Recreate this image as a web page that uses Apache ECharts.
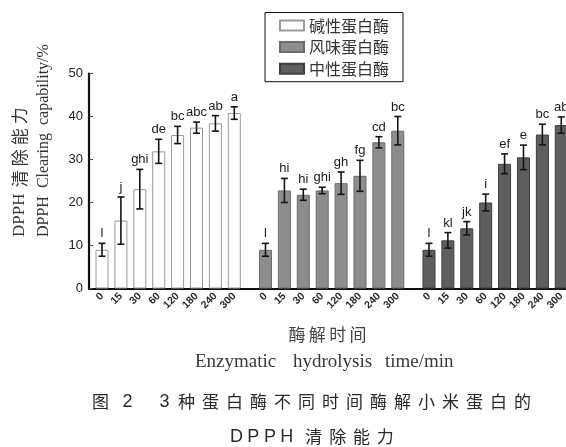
<!DOCTYPE html>
<html>
<head>
<meta charset="utf-8">
<script src="https://cdn.jsdelivr.net/npm/echarts@6/dist/echarts.min.js"></script>
<style>
  html, body { margin: 0; padding: 0; background: #fff; }
  #chart { width: 566px; height: 447px; }
</style>
</head>
<body>
<div id="chart"></div>
<script>
// Hydrolysis times (min) shown under each enzyme group
const timeLabels = ['0', '15', '30', '60', '120', '180', '240', '300'];
const enzymes = ['碱性蛋白酶', '风味蛋白酶', '中性蛋白酶'];

// DPPH clearing capability (%) — mean, deviation and significance letters
const alkalineMean = [9.0, 15.8, 23.1, 31.9, 35.7, 37.4, 38.4, 40.8];
const alkalineSd   = [1.5, 5.5, 4.6, 2.8, 2.0, 1.3, 1.8, 1.45];
const alkalineSig  = ['l', 'j', 'ghi', 'de', 'bc', 'abc', 'ab', 'a'];

const flavourMean = [9.0, 22.8, 21.8, 22.8, 24.5, 26.2, 34.0, 36.7];
const flavourSd   = [1.5, 2.8, 1.3, 0.75, 2.6, 3.6, 1.3, 3.3];
const flavourSig  = ['l', 'hi', 'hi', 'ghi', 'gh', 'fg', 'cd', 'bc'];

const neutralMean = [9.0, 11.2, 14.0, 20.0, 29.0, 30.5, 35.8, 38.0];
const neutralSd   = [1.5, 1.8, 1.55, 1.95, 2.3, 2.85, 2.4, 1.9];
const neutralSig  = ['l', 'kl', 'jk', 'i', 'ef', 'e', 'bc', 'ab'];

const yTicks = [0, 10, 20, 30, 40, 50];

// ---- layout helpers ----
const groups = [
  { mean: alkalineMean, sd: alkalineSd, sig: alkalineSig, fill: '#ffffff', border: '#9a9a9a' },
  { mean: flavourMean,  sd: flavourSd,  sig: flavourSig,  fill: '#8d8d8d', border: '#6c6c6c' },
  { mean: neutralMean,  sd: neutralSd,  sig: neutralSig,  fill: '#5e5e5e', border: '#3e3e3e' }
];
const GROUP_STEP = timeLabels.length + 0.65;   // slot offset between enzyme groups
const slotPos = (g, i) => +(g * GROUP_STEP + i).toFixed(3);

const tickPositions = [];
const tickText = {};
groups.forEach((_, g) => timeLabels.forEach((t, i) => {
  const p = slotPos(g, i);
  tickPositions.push(p);
  tickText[p] = t;
}));

const SANS = "'Liberation Sans', Arial, 'Noto Sans CJK SC', sans-serif";
const SERIF = "'Liberation Serif', 'Times New Roman', 'Noto Sans CJK SC', serif";
const CJK = "'Noto Sans CJK SC', sans-serif";

// rich text with a fixed advance per character
function spaced(str, style) {
  return str.split('').map(ch => `{${style}|${ch}}`).join('');
}
function rs(size, family, extra) {
  return Object.assign({ fontSize: size, fontFamily: family, fill: '#2a2a2a', color: '#2a2a2a' }, extra || {});
}

const barSeries = groups.map((grp, g) => ({
  name: enzymes[g],
  type: 'bar',
  barWidth: 13,
  barGap: '-100%',
  itemStyle: { color: grp.fill, borderColor: grp.border, borderWidth: 1 },
  data: grp.mean.map((v, i) => [slotPos(g, i), v]),
  z: 2
}));

const errSeries = groups.map((grp, g) => ({
  type: 'custom',
  z: 4,
  silent: true,
  encode: { x: 0, y: [1, 2] },
  data: grp.mean.map((v, i) => [slotPos(g, i), v - grp.sd[i], v + grp.sd[i], grp.sig[i]]),
  renderItem: function (params, api) {
    const x = api.value(0);
    const lo = api.coord([x, api.value(1)]);
    const hi = api.coord([x, api.value(2)]);
    const cap = 3.5;
    const st = { stroke: '#151515', lineWidth: 1.6 };
    return {
      type: 'group',
      children: [
        { type: 'line', shape: { x1: lo[0], y1: lo[1], x2: hi[0], y2: hi[1] }, style: st },
        { type: 'line', shape: { x1: hi[0] - cap, y1: hi[1], x2: hi[0] + cap, y2: hi[1] }, style: st },
        { type: 'line', shape: { x1: lo[0] - cap, y1: lo[1], x2: lo[0] + cap, y2: lo[1] }, style: st },
        {
          type: 'text',
          x: hi[0], y: hi[1] - 3,
          style: {
            text: api.value(3),
            align: 'center', verticalAlign: 'bottom',
            fontSize: 13, fontFamily: SANS, fill: '#1a1a1a'
          }
        }
      ]
    };
  }
}));

const option = {
  animation: false,
  backgroundColor: '#ffffff',
  grid: { left: 89, right: 0, top: 73.5, bottom: 158.5, outerBoundsMode: 'none' },
  legend: {
    orient: 'vertical',
    left: 265, top: 12.5,
    data: enzymes,
    icon: 'rect',
    itemWidth: 24, itemHeight: 10, itemGap: 5.6,
    padding: [5, 14, 5, 14],
    borderColor: '#111', borderWidth: 1,
    textStyle: { fontSize: 16, color: '#333', fontFamily: CJK }
  },
  xAxis: {
    type: 'value',
    min: -0.688, max: 24.55,
    splitLine: { show: false },
    axisLine: { show: true, onZero: false, lineStyle: { color: '#111', width: 2.2 } },
    axisTick: { show: false },
    axisLabel: {
      customValues: tickPositions,
      rotate: 45,
      margin: 6,
      fontSize: 10.5,
      fontFamily: SANS,
      fontWeight: 'bold',
      color: '#2a2a2a',
      formatter: v => tickText[+(+v).toFixed(3)] ?? ''
    }
  },
  yAxis: {
    type: 'value',
    min: yTicks[0], max: yTicks[yTicks.length - 1], interval: 10,
    splitLine: { show: false },
    axisLine: { show: true, onZero: false, lineStyle: { color: '#111', width: 2.2 } },
    axisTick: { show: true, inside: true, length: 4, lineStyle: { color: '#444', width: 1 } },
    axisLabel: { margin: 6, fontSize: 13, fontFamily: SANS, color: '#222' }
  },
  graphic: [
    // y-axis titles (rotated)
    {
      type: 'text', x: 20, y: 237, rotation: Math.PI / 2,
      style: {
        text: '{a|DPPH }' + spaced('清除能力', 'c'),
        align: 'left', verticalAlign: 'middle', fill: '#333',
        rich: {
          a: rs(17, SERIF, { fill: '#333' }),
          c: rs(17, CJK, { fill: '#333', width: 21, align: 'center' })
        }
      }
    },
    {
      type: 'text', x: 44, y: 237, rotation: Math.PI / 2,
      style: {
        text: 'DPPH  Clearing  capability/%',
        align: 'left', verticalAlign: 'middle',
        fontSize: 16, fontFamily: SERIF, fill: '#333'
      }
    },
    // x-axis titles
    {
      type: 'text', x: 327.5, y: 335,
      style: {
        text: spaced('酶解时间', 'c'),
        align: 'center', verticalAlign: 'middle',
        rich: { c: rs(17, CJK, { fill: '#444', width: 20.4, align: 'center' }) }
      }
    },
    {
      type: 'text', x: 327.5, y: 362,
      style: {
        text: '{w1|Enzymatic}{w2|hydrolysis}{w3|time/min}',
        align: 'center', verticalAlign: 'middle',
        rich: {
          w1: rs(19, SERIF, { fill: '#3a3a3a', width: 98, align: 'left' }),
          w2: rs(19, SERIF, { fill: '#3a3a3a', width: 92, align: 'left' }),
          w3: rs(19, SERIF, { fill: '#3a3a3a', width: 75, align: 'left' })
        }
      }
    },
    // figure caption
    {
      type: 'text', x: 311.5, y: 402,
      style: {
        text: '{c|图}{n|2}{s| }{d|3}' + spaced('种蛋白酶不同时间酶解小米蛋白的', 'c'),
        align: 'center', verticalAlign: 'middle',
        rich: {
          c: rs(17, CJK, { width: 24, align: 'center' }),
          n: rs(18, SANS, { width: 30, align: 'center' }),
          s: rs(17, SANS, { width: 12 }),
          d: rs(18, SANS, { width: 20, align: 'center' })
        }
      }
    },
    {
      type: 'text', x: 312.7, y: 437,
      style: {
        text: spaced('DPPH', 'l') + '{s| }' + spaced('清除能力', 'c'),
        align: 'center', verticalAlign: 'middle',
        rich: {
          l: rs(18, SANS, { width: 16.7, align: 'center' }),
          s: rs(17, SANS, { width: 6.9 }),
          c: rs(17, CJK, { width: 23.8, align: 'center' })
        }
      }
    }
  ],
  series: [...barSeries, ...errSeries]
};

const chart = echarts.init(document.getElementById('chart'), null, { renderer: 'canvas' });
chart.setOption(option);
</script>
</body>
</html>
